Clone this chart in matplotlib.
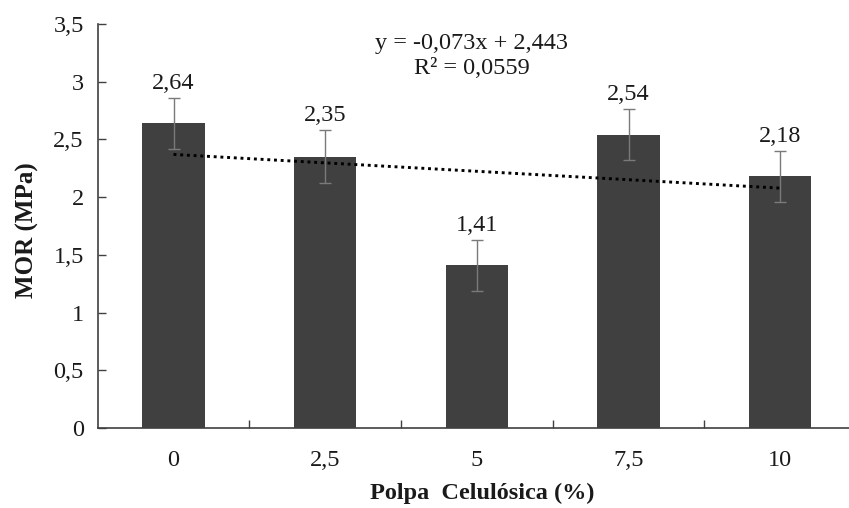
import matplotlib

matplotlib.use("Agg")
import matplotlib.pyplot as plt
import numpy as np

# values
categories = ["0", "2,5", "5", "7,5", "10"]
mor = [2.64, 2.35, 1.41, 2.54, 2.18]
mor_err = [0.22, 0.23, 0.22, 0.22, 0.22]
yticks = [0, 0.5, 1, 1.5, 2, 2.5, 3, 3.5]

BAR = "#404040"
AXIS = "#404040"
TXT = "#1a1a1a"
FS = 17.5

plt.rcParams["font.family"] = ["Liberation Serif", "DejaVu Serif"]

fig = plt.figure(figsize=(8.49, 5.08), dpi=100)
ax = fig.add_axes([97.7 / 849, 80 / 508, 1 - 97.7 / 849, 404 / 508])

x = np.arange(len(mor))
ax.bar(x, mor, width=0.41, color=BAR, zorder=2)
ax.errorbar(x, mor, yerr=mor_err, fmt="none", ecolor="#7a7a7a", elinewidth=1.0,
            capsize=4.3, capthick=1.0, zorder=3)

# linear trend over category index 1..n (Excel style)
k, b = np.polyfit(x + 1, mor, 1)
ax.plot(x, k * (x + 1) + b, color="black", lw=2.1, ls=(0, (1, 1.3)),
        dash_capstyle="butt", zorder=4)

for xi, v, e in zip(x, mor, mor_err):
    ax.annotate(f"{v:.2f}".replace(".", ","), (xi, v + e), xytext=(0, 3),
                textcoords="offset points", ha="center", va="bottom",
                fontsize=FS, color=TXT)

ax.set_ylim(0, 3.5)
ax.set_xlim(-0.5, 4.5 - 7 / 151.6)
ax.set_yticks(yticks)
ax.set_yticklabels([f"{t:g}".replace(".", ",") for t in yticks])
ax.set_xticks(x)
ax.set_xticklabels(categories)
ax.set_xticks(x[:-1] + 0.5, minor=True)
ax.tick_params(axis="y", direction="in", length=6, width=1, color=AXIS,
               labelsize=FS, labelcolor=TXT, pad=10)
ax.tick_params(axis="x", which="major", length=0, labelsize=FS, labelcolor=TXT, pad=16)
ax.tick_params(axis="x", which="minor", direction="in", length=6, width=1, color=AXIS)

for s in ("top", "right"):
    ax.spines[s].set_visible(False)
for s in ("left", "bottom"):
    ax.spines[s].set_color(AXIS)
    ax.spines[s].set_linewidth(1.2)

fig.text(27 / 849, 1 - 230 / 508, "MOR (MPa)", rotation=90, ha="center", va="center",
         fontsize=FS + 0.5, fontweight="bold", color=TXT)
fig.text(482 / 849, 1 - 493 / 508, "Polpa  Celulósica (%)", ha="center", va="center",
         fontsize=FS, fontweight="bold", color=TXT)

fig.text(472 / 849, 1 - 43 / 508, "y = -0,073x + 2,443", ha="center", va="center",
         fontsize=FS, color=TXT)
fig.text(472 / 849, 1 - 69 / 508, "R² = 0,0559", ha="center", va="center",
         fontsize=FS, color=TXT)

fig.savefig("out.png", dpi=100)
plt.close(fig)
